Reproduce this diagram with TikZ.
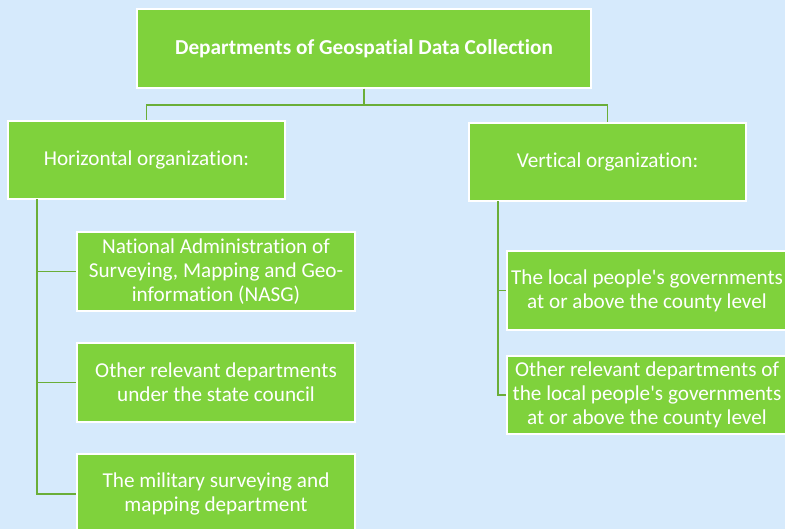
\documentclass[tikz,border=0pt]{standalone}
\usepackage{fontspec}
\setmainfont[Ligatures={NoCommon}]{Carlito}
\definecolor{bgblue}{RGB}{214,234,252}
\definecolor{boxgreen}{RGB}{127,210,60}
\definecolor{linegreen}{RGB}{106,174,56}
\tikzset{
  box/.style={rectangle, fill=boxgreen, draw=white, line width=1.5pt, text=white,
    align=center, inner sep=0pt, font=\fontsize{21.2}{24}\selectfont},
  conn/.style={draw=linegreen, line width=1.8pt},
}
\begin{document}
\begin{tikzpicture}[x=1pt,y=-1pt]
\useasboundingbox (0,0) rectangle (785,529);
\fill[bgblue] (0,0) rectangle (785,529);
\clip (0,0) rectangle (785,529);
\node[box, minimum width=454, minimum height=79, font=\bfseries\fontsize{21.3}{24}\selectfont] (top) at (364,48.5) {Departments of Geospatial Data Collection};
\node[box, minimum width=277, minimum height=78] (horiz) at (146.5,160) {Horizontal organization:};
\node[box, minimum width=277, minimum height=78] (vert) at (607.5,162) {Vertical organization:};
\node[box, minimum width=278, minimum height=79] (nasg) at (216,271.5) {National Administration of\\Surveying, Mapping and Geo-\\information (NASG)};
\node[box, minimum width=278, minimum height=79] (other) at (216,382.5) {Other relevant departments\\under the state council};
\node[box, minimum width=278, minimum height=80] (mil) at (216,494) {The military surveying and\\mapping department};
\node[box, minimum width=280, minimum height=79] (local) at (647,290.5) {The local people\textquotesingle s governments\\at or above the county level};
\node[box, minimum width=280, minimum height=78] (olocal) at (647,395) {Other relevant departments of\\the local people\textquotesingle s governments\\at or above the county level};
\draw[conn] (top.south) -- (top.south |- 0,105) -| (horiz.north);
\draw[conn] (top.south) -- (top.south |- 0,105) -| (vert.north);
\coordinate (hs) at (37,199.5);
\coordinate (vs) at (498,201.5);
\draw[conn] (hs) |- (nasg.west);
\draw[conn] (hs) |- (other.west);
\draw[conn] (hs) |- (mil.west);
\draw[conn] (vs) |- (local.west);
\draw[conn] (vs) |- (olocal.west);
\end{tikzpicture}
\end{document}
